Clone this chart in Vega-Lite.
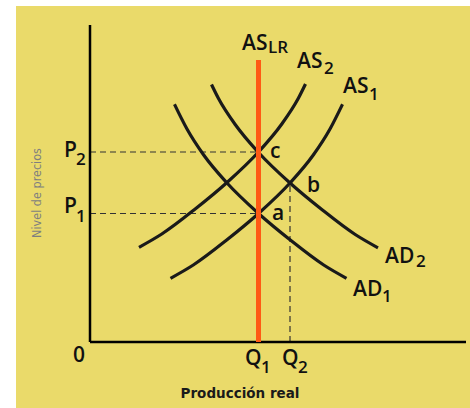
{
  "$schema": "https://vega.github.io/schema/vega-lite/v6.json",
  "width": 454,
  "height": 402,
  "autosize": {"type": "none"},
  "padding": {"left": 16, "top": 6, "right": 0, "bottom": 0},
  "background": "#ffffff",
  "view": {"fill": "#EADA6A", "stroke": null},
  "datasets": {
    "curves": [
      {"curve": "AS1", "x": 80.5, "y": 63.7},
      {"curve": "AS1", "x": 103.3, "y": 77},
      {"curve": "AS1", "x": 136.7, "y": 102},
      {"curve": "AS1", "x": 168.5, "y": 128.5},
      {"curve": "AS1", "x": 200, "y": 159},
      {"curve": "AS1", "x": 223.3, "y": 187},
      {"curve": "AS1", "x": 240, "y": 213},
      {"curve": "AS1", "x": 252.5, "y": 237.7},
      {"curve": "AS2", "x": 49, "y": 94.7},
      {"curve": "AS2", "x": 71.8, "y": 108},
      {"curve": "AS2", "x": 105.2, "y": 133},
      {"curve": "AS2", "x": 137, "y": 159.5},
      {"curve": "AS2", "x": 168.5, "y": 190},
      {"curve": "AS2", "x": 191.8, "y": 218},
      {"curve": "AS2", "x": 208.5, "y": 244},
      {"curve": "AS2", "x": 215.5, "y": 258},
      {"curve": "AD1", "x": 84.5, "y": 237.7},
      {"curve": "AD1", "x": 97, "y": 213},
      {"curve": "AD1", "x": 113.7, "y": 187},
      {"curve": "AD1", "x": 137, "y": 159},
      {"curve": "AD1", "x": 168.5, "y": 128.5},
      {"curve": "AD1", "x": 200.3, "y": 102},
      {"curve": "AD1", "x": 233.7, "y": 77},
      {"curve": "AD1", "x": 256.5, "y": 63.7},
      {"curve": "AD2", "x": 121.5, "y": 257.5},
      {"curve": "AD2", "x": 128.5, "y": 243.5},
      {"curve": "AD2", "x": 145.2, "y": 217.5},
      {"curve": "AD2", "x": 168.5, "y": 189.5},
      {"curve": "AD2", "x": 200, "y": 159},
      {"curve": "AD2", "x": 231.8, "y": 132.5},
      {"curve": "AD2", "x": 265.2, "y": 107.5},
      {"curve": "AD2", "x": 288, "y": 94.2}
    ],
    "guides": [
      {"g": "P2", "x": 0, "y": 190},
      {"g": "P2", "x": 168.5, "y": 190},
      {"g": "P1", "x": 0, "y": 128.5},
      {"g": "P1", "x": 168.5, "y": 128.5},
      {"g": "Q2", "x": 200, "y": 0},
      {"g": "Q2", "x": 200, "y": 159}
    ],
    "axes": [
      {"a": "x", "x": 0, "y": 0},
      {"a": "x", "x": 376, "y": 0},
      {"a": "y", "x": 0, "y": 0},
      {"a": "y", "x": 0, "y": 317}
    ],
    "aslr": [
      {"x": 168.5, "y": 0},
      {"x": 168.5, "y": 282}
    ],
    "labels": [
      {"t": "AS", "x": 152, "y": 292},
      {"t": "AS", "x": 207, "y": 274},
      {"t": "AS", "x": 253, "y": 249},
      {"t": "AD", "x": 295, "y": 79},
      {"t": "AD", "x": 263, "y": 46},
      {"t": "P", "x": -26, "y": 185},
      {"t": "P", "x": -26, "y": 129},
      {"t": "Q", "x": 155, "y": -23},
      {"t": "Q", "x": 192, "y": -23},
      {"t": "0", "x": -17, "y": -20},
      {"t": "a", "x": 182, "y": 122},
      {"t": "b", "x": 217, "y": 150},
      {"t": "c", "x": 180, "y": 184}
    ],
    "subs": [
      {"t": "LR", "x": 178, "y": 289},
      {"t": "2", "x": 234, "y": 268},
      {"t": "1", "x": 279, "y": 242},
      {"t": "2", "x": 326, "y": 75},
      {"t": "1", "x": 292, "y": 40},
      {"t": "2", "x": -14, "y": 177},
      {"t": "1", "x": -14, "y": 120},
      {"t": "1", "x": 171, "y": -31},
      {"t": "2", "x": 208, "y": -31}
    ],
    "titles": [
      {"t": "Producción real", "x": 150, "y": -56}
    ],
    "ytitle": [
      {"t": "Nivel de precios", "x": -53, "y": 149}
    ]
  },
  "encoding": {
    "x": {"field": "x", "type": "quantitative", "axis": null, "scale": {"domain": [-74, 380], "nice": false, "zero": false}},
    "y": {"field": "y", "type": "quantitative", "axis": null, "scale": {"domain": [-66, 336], "nice": false, "zero": false}}
  },
  "layer": [
    {
      "data": {"name": "guides"},
      "mark": {"type": "line", "color": "#333333", "strokeWidth": 1.2, "strokeDash": [6, 4], "clip": false},
      "encoding": {"detail": {"field": "g"}, "order": {"field": "y"}}
    },
    {
      "data": {"name": "axes"},
      "mark": {"type": "line", "color": "#000000", "strokeWidth": 2.5, "clip": false},
      "encoding": {"detail": {"field": "a"}}
    },
    {
      "data": {"name": "curves"},
      "mark": {"type": "line", "color": "#1a1a1a", "strokeWidth": 3.2, "interpolate": "monotone", "clip": false},
      "encoding": {"detail": {"field": "curve"}}
    },
    {
      "data": {"name": "aslr"},
      "mark": {"type": "line", "color": "#FF5A14", "strokeWidth": 5, "clip": false},
      "encoding": {"order": {"field": "y"}}
    },
    {
      "data": {"name": "labels"},
      "mark": {"type": "text", "align": "left", "baseline": "alphabetic", "font": "Open Sans", "fontWeight": 600, "fontSize": 21, "color": "#111111"},
      "encoding": {"text": {"field": "t"}}
    },
    {
      "data": {"name": "subs"},
      "mark": {"type": "text", "align": "left", "baseline": "alphabetic", "font": "Open Sans", "fontWeight": 600, "fontSize": 17, "color": "#111111"},
      "encoding": {"text": {"field": "t"}}
    },
    {
      "data": {"name": "titles"},
      "mark": {"type": "text", "align": "center", "baseline": "alphabetic", "font": "DejaVu Sans", "fontWeight": "bold", "fontSize": 13.5, "color": "#1a1a1a"},
      "encoding": {"text": {"field": "t"}}
    },
    {
      "data": {"name": "ytitle"},
      "mark": {"type": "text", "align": "center", "baseline": "middle", "angle": 270, "font": "DejaVu Sans Condensed", "fontSize": 12.5, "color": "#7f7f7f"},
      "encoding": {"text": {"field": "t"}}
    }
  ]
}
